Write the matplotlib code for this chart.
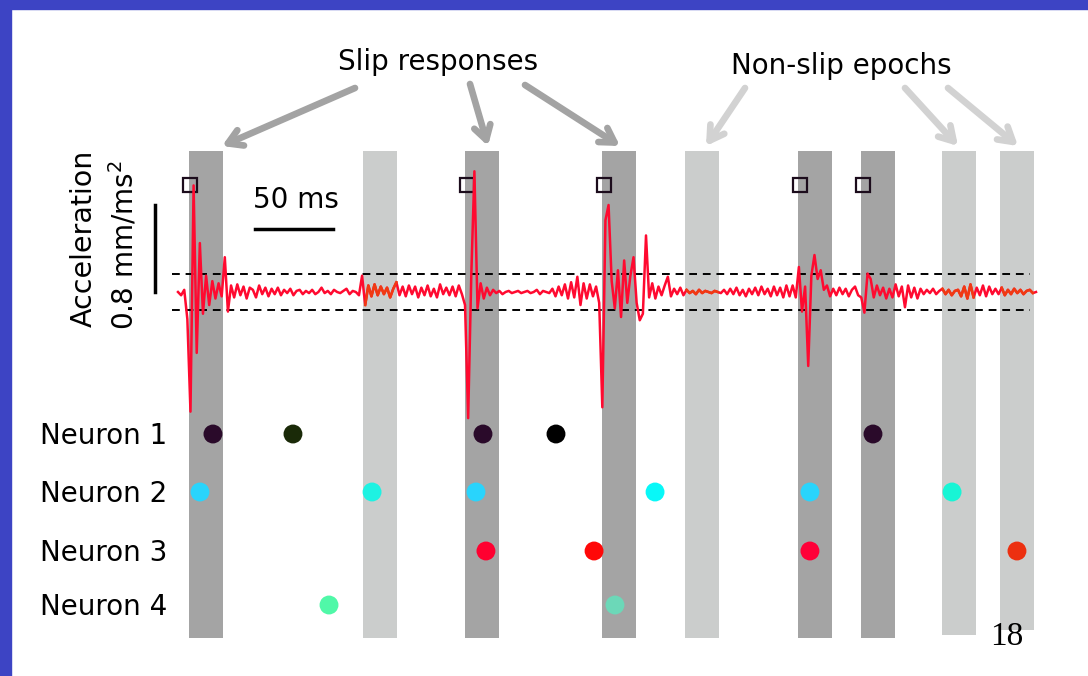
import numpy as np
import matplotlib.pyplot as plt
from matplotlib.patches import Rectangle

# epochs (ms from start of trace)
slip_starts = [7.1, 184.0, 271.8, 397.4, 437.8]
nonslip_starts = [118.6, 325.0, 489.7, 526.9]
epoch_len = 22.0

# detected slip onsets (open squares)
onsets = [7.7, 185.3, 273.1, 398.7, 439.1]

# spikes per neuron (ms) and their colours
n1_spikes = [22.4, 73.7, 195.5, 242.3, 445.5]
n1_colors = ['#2a0a2a', '#1a2a08', '#2a0a2a', '#000000', '#2a0a2a']
n2_spikes = [14.1, 124.4, 191.0, 305.8, 405.1, 496.2]
n2_colors = ['#29d4fc', '#1ef2e2', '#29d4fc', '#08f8f8', '#29d4fc', '#18f5d5']
n3_spikes = [197.4, 266.7, 405.1, 537.8]
n3_colors = ['#ff0030', '#ff0808', '#ff0038', '#ec3010']
n4_spikes = [96.8, 280.1]
n4_colors = ['#50f8a8', '#6cd8b8']
neuron_labels = ['Neuron 1', 'Neuron 2', 'Neuron 3', 'Neuron 4']

# acceleration trace, mm/ms^2, one sample every 2 ms
dt = 2.0
accel = [
    0.00, -0.03, 0.02, -0.25, -1.10, 0.98, -0.56, 0.45, -0.20, 0.15,
    -0.12, 0.10, -0.06, 0.08, -0.04, 0.32, -0.18, 0.06, -0.05, 0.07,
    -0.03, 0.05, -0.06, 0.04, 0.02, -0.05, 0.06, -0.02, 0.04, -0.04,
    0.03, -0.02, 0.04, -0.03, 0.02, -0.01, 0.03, -0.03, 0.01, 0.02,
    -0.02, 0.01, -0.01, 0.02, -0.02, 0.00, 0.04, -0.01, 0.01, -0.02,
    0.02, 0.00, -0.01, 0.01, 0.03, -0.02, 0.01, 0.00, -0.03, 0.15,
    -0.12, 0.06, -0.04, 0.07, -0.03, 0.05, -0.02, 0.04, -0.05, 0.03,
    0.09, -0.03, 0.05, -0.04, 0.06, -0.02, 0.05, -0.05, 0.04, -0.03,
    0.06, -0.04, 0.03, -0.05, 0.07, -0.02, 0.04, -0.03, 0.05, -0.04,
    0.06, -0.02, -0.12, -1.16, 0.15, 1.11, -0.15, 0.08, -0.06, 0.04,
    -0.03, 0.02, -0.01, 0.01, -0.02, 0.00, 0.01, -0.01, 0.00, 0.01,
    -0.01, 0.00, 0.01, -0.01, 0.00, 0.02, -0.02, 0.01, 0.00, -0.01,
    0.03, -0.04, 0.05, -0.03, 0.07, -0.06, 0.09, -0.05, 0.14, -0.12,
    0.08, -0.06, 0.07, -0.04, 0.05, -0.10, -1.06, 0.66, 0.80, 0.10,
    -0.15, 0.20, -0.23, 0.29, -0.10, 0.15, 0.32, -0.10, -0.26, -0.20,
    0.52, -0.05, 0.08, -0.06, 0.05, -0.03, 0.06, 0.14, -0.04, 0.03,
    -0.02, 0.04, -0.03, 0.02, -0.01, 0.01, -0.02, 0.02, -0.01, 0.01,
    0.00, -0.01, 0.01, 0.00, -0.01, 0.02, -0.02, 0.03, -0.02, 0.04,
    -0.03, 0.02, -0.04, 0.03, -0.02, 0.04, -0.03, 0.05, -0.02, 0.03,
    -0.04, 0.05, -0.03, 0.04, -0.05, 0.06, -0.04, 0.06, -0.05, 0.23,
    -0.18, 0.05, -0.68, 0.15, 0.34, 0.12, 0.20, 0.02, 0.06, -0.04,
    0.03, -0.03, 0.04, -0.02, 0.03, -0.04, 0.02, 0.05, -0.03, -0.05,
    -0.19, 0.17, 0.12, -0.05, 0.06, -0.03, 0.04, -0.06, 0.03, -0.05,
    0.07, -0.04, 0.05, -0.14, 0.06, -0.05, 0.04, -0.06, 0.03, -0.02,
    0.02, -0.01, 0.03, -0.02, 0.01, 0.03, -0.02, 0.02, -0.03, 0.01,
    0.02, -0.04, 0.05, -0.06, 0.07, -0.05, 0.04, -0.03, 0.06, -0.04,
    0.05, -0.02, 0.03, -0.02, 0.04, -0.03, 0.02, -0.02, 0.03, -0.01,
    0.02, -0.02, 0.01, 0.02, -0.01, 0.00,
]
threshold = 0.17


def px(x):
    # layout helper: image pixel column -> ms
    return (x - 178) / 1.56


W, H = 1088, 676
fig = plt.figure(figsize=(W / 100, H / 100), dpi=100)
fig.patch.set_facecolor('white')

# layout axes: x in ms, y in pixels from top
ax = fig.add_axes([0, 0, 1, 1])
ax.set_xlim(px(0), px(W))
ax.set_ylim(H, 0)
ax.axis('off')

# trace axes: same x, y in mm/ms^2 (baseline at row 292, 0.8 -> 87 px)
k = 0.8 / 87
ax2 = fig.add_axes([0, 0, 1, 1])
ax2.set_xlim(px(0), px(W))
ax2.set_ylim(-(H - 292) * k, 292 * k)
ax2.axis('off')
ax2.patch.set_alpha(0)

# epoch bars
dark_bottom = [638, 638, 638, 638, 638]
light_bottom = [638, 638, 635, 630]
for s, b in zip(slip_starts, dark_bottom):
    ax.bar(s, b - 151, bottom=151, width=epoch_len, align='edge', color='#a4a4a4', zorder=1)
for s, b in zip(nonslip_starts, light_bottom):
    ax.bar(s, b - 151, bottom=151, width=epoch_len, align='edge', color='#cbcdcc', zorder=1)

# onset squares
ax.plot(onsets, [185] * len(onsets), 's', mfc='none', mec='#1c0c1c', ms=10.5, mew=1.6, zorder=4)

# threshold lines
for th in (threshold, -threshold):
    ax2.plot([px(172), px(1030)], [th, th], color='black', lw=1.4, ls=(0, (4, 3)), zorder=2)

# trace
t = np.arange(len(accel)) * dt
a = np.array(accel)
ax2.plot(t, a, color='#ff0a30', lw=1.8, zorder=3)
for s in nonslip_starts:
    m = (t >= s) & (t <= s + epoch_len)
    ax2.plot(t[m], a[m], color='#f03a12', lw=1.8, zorder=3)

# scale bars
ax2.plot([px(155), px(155)], [0, 0.8], color='black', lw=2.5)
ax.plot([px(255), px(333)], [229, 229], color='black', lw=2.5)
ax.text(px(296), 200, '50 ms', fontsize=20, ha='center', va='center')
ax.text(px(84), 238, 'Acceleration', fontsize=20.5, rotation=90, ha='center', va='center')
ax.text(px(124), 245, '0.8 mm/ms$^2$', fontsize=20, rotation=90, ha='center', va='center')

# raster
rows_y = [434, 492, 551, 605]
for spikes, cols, y in zip([n1_spikes, n2_spikes, n3_spikes, n4_spikes],
                           [n1_colors, n2_colors, n3_colors, n4_colors], rows_y):
    ax.scatter(spikes, [y] * len(spikes), s=185, c=cols, linewidths=0, zorder=5)
for lab, y in zip(neuron_labels, rows_y):
    ax.text(px(40), y + 2, lab, fontsize=20, ha='left', va='center')

# headings and arrows
ax.text(px(438), 62, 'Slip responses', fontsize=20, ha='center', va='center')
ax.text(px(841), 66, 'Non-slip epochs', fontsize=20, ha='center', va='center')
dark_arrows = [((355, 88), (222, 146)), ((470, 84), (488, 146)), ((525, 85), (620, 146))]
light_arrows = [((745, 88), (706, 146)), ((905, 88), (958, 146)), ((948, 88), (1018, 146))]
for arrows, col in [(dark_arrows, '#a3a3a3'), (light_arrows, '#d2d2d2')]:
    for (x0, y0), (x1, y1) in arrows:
        ax.annotate('', xy=(px(x1), y1), xytext=(px(x0), y0),
                    arrowprops=dict(arrowstyle='->, head_length=1.0, head_width=0.6',
                                    color=col, lw=4.8, shrinkA=0, shrinkB=0))

ax.text(px(1007), 637, '18', fontsize=24, family='Liberation Serif', ha='center', va='center')

# slide border
fig.patches.append(Rectangle((0, 0), 11 / W, 1, transform=fig.transFigure, color='#3d44c4', zorder=10))
fig.patches.append(Rectangle((0, 1 - 9 / H), 1, 9 / H, transform=fig.transFigure, color='#3d44c4', zorder=10))

fig.savefig('out.png', dpi=100)
